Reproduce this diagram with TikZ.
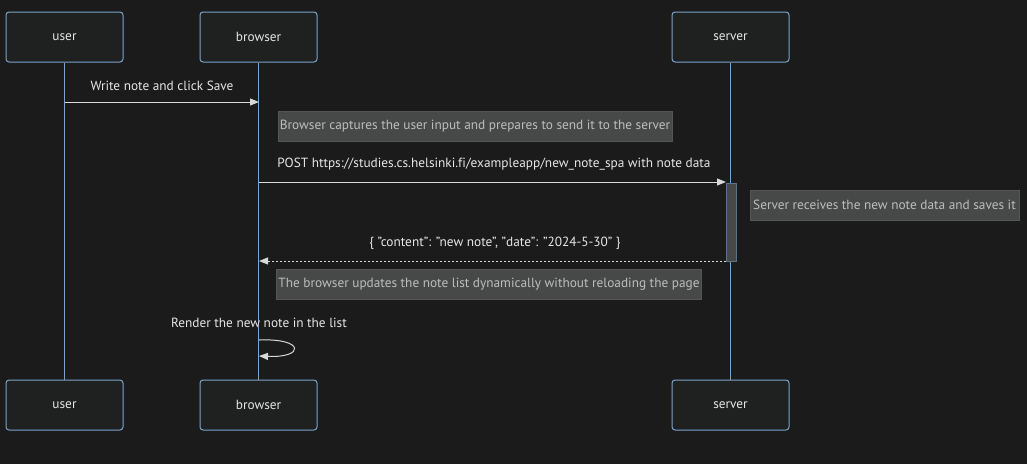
\documentclass[tikz,border=0pt]{standalone}
\usepackage{fontspec}
\setmainfont[Ligatures={NoCommon}]{PT Sans}
\usetikzlibrary{arrows.meta}
\definecolor{bg}{HTML}{1B1B1B}
\definecolor{actfill}{HTML}{1F2020}
\definecolor{actline}{HTML}{7DA3CC}
\definecolor{notefill}{HTML}{474949}
\definecolor{noteline}{HTML}{555555}
\definecolor{notetext}{HTML}{BDBDBD}
\definecolor{msgtext}{HTML}{E6E6E6}
\definecolor{msgline}{HTML}{D8D8D8}
\newcommand{\fs}{\fontsize{13.3}{15}\selectfont}
\newcommand{\qq}{\char34\relax}
\tikzset{
  actor/.style={draw=actline, fill=actfill, rounded corners=3pt, minimum width=117pt, minimum height=50pt, text=msgtext, font=\fs, line width=1pt, text depth=0pt},
  lifeline/.style={draw=actline, line width=1.4pt},
  note/.style={draw=noteline, fill=notefill, text=notetext, minimum height=30pt, inner xsep=2pt, font=\fs, line width=0.8pt},
  msglabel/.style={text=msgtext, font=\fs},
  msg/.style={draw=msgline, line width=1pt, -{Triangle[length=9pt,width=7pt]}},
  reply/.style={msg, dash pattern=on 2pt off 2pt},
  activation/.style={draw=actline!70!black, fill=notefill, line width=1pt}
}
\begin{document}
\begin{tikzpicture}[x=1pt,y=-1pt]
\fill[bg] (0,0) rectangle (1027,464);
\useasboundingbox (0,0) rectangle (1027,464);
% actors
\node[actor] (ut) at (64.5,37) {user};
\node[actor] (bt) at (258.5,37) {browser};
\node[actor] (st) at (730.5,37) {server};
\node[actor] (ub) at (64.5,405) {user};
\node[actor] (bb) at (258.5,405) {browser};
\node[actor] (sb) at (730.5,405) {server};
% lifelines
\draw[lifeline] (ut.south) -- (ub.north);
\draw[lifeline] (bt.south) -- (bb.north);
\draw[lifeline] (st.south) -- (sb.north);
% coordinates on lifelines
\coordinate (u1) at (65,102);
\coordinate (b1) at (259,102);
\coordinate (b2) at (259,182);
\coordinate (s2) at (726,182);
\coordinate (s3) at (726,261);
\coordinate (b3) at (259,261);
% message 1
\draw[msg] (u1) -- (b1);
\node[msglabel] (m1) at (162,86) {Write note and click Save};
% note 1
\node[note, minimum width=394pt] (n1) at (475,126) {Browser captures the user input and prepares to send it to the server};
% message 2
\draw[msg] (b2) -- (s2);
\node[msglabel] (m2) at (494,164) {POST https://studies.cs.helsinki.fi/exampleapp/new\_note\_spa with note data};
% activation
\node[activation, minimum width=10pt, minimum height=78pt, inner sep=0pt] (act) at (731,222) {};
% note 2
\node[note, minimum width=269pt] (n2) at (884.5,205) {Server receives the new note data and saves it};
% reply
\draw[reply] (s3) -- (b3);
\node[msglabel] (m3) at (495,243) {\{ \qq content\qq: \qq new note\qq, \qq date\qq: \qq 2024-5-30\qq{} \}};
% note 3
\node[note, minimum width=422pt] (n3) at (489,284) {The browser updates the note list dynamically without reloading the page};
% self message
\node[msglabel] (m4) at (259,323) {Render the new note in the list};
\coordinate (b4) at (259,340);
\coordinate (b5) at (259,356);
\draw[msg] (b4) .. controls (305,338) and (305,358) .. (b5);
\end{tikzpicture}
\end{document}
